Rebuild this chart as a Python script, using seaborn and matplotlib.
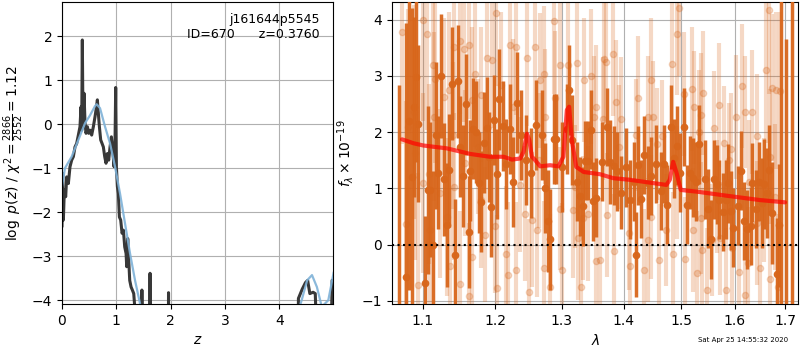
import numpy as np
import pandas as pd
import seaborn as sns
import matplotlib.pyplot as plt
from matplotlib.ticker import NullLocator

sns.set_style("ticks", {"axes.grid": True, "grid.color": "#b0b0b0",
                        "axes.edgecolor": "black", "text.color": "black",
                        "xtick.color": "black", "ytick.color": "black",
                        "axes.labelcolor": "black"})
plt.rcParams["font.family"] = ["DejaVu Sans"]
plt.rcParams["font.size"] = 10

# p(z) curve (data) and smooth template curve
z_pz = [0.000, 0.012, 0.025, 0.043, 0.068, 0.086, 0.117, 0.147, 0.178, 0.209,
        0.239, 0.270, 0.301, 0.331, 0.350, 0.362, 0.374, 0.387, 0.405, 0.424,
        0.442, 0.467, 0.491, 0.516, 0.546, 0.577, 0.608, 0.626, 0.651, 0.669,
        0.688, 0.712, 0.737, 0.761, 0.786, 0.810, 0.835, 0.859, 0.884, 0.909,
        0.933, 0.958, 0.976, 0.988, 1.001, 1.019, 1.037, 1.056, 1.080, 1.105,
        1.130, 1.154, 1.179, 1.191, 1.209, 1.228, 1.246, 1.271, 1.295, 1.320,
        1.338, 1.363, 1.465, 1.470, 1.475, 1.615, 1.620, 1.625, 1.955, 1.960,
        1.965, 4.340, 4.350, 4.420, 4.480, 4.520, 4.560, 4.620, 4.660, 4.720,
        4.940, 4.970, 5.000]
logpz = [-2.33, -1.12, -2.18, -1.50, -1.65, -1.20, -1.35, -0.97, -0.82, -0.74,
         -0.52, -0.44, -0.25, -0.06, 0.39, -0.14, 1.91, -0.06, 0.70, 0.02,
         -0.21, -0.06, -0.21, -0.14, -0.25, -0.06, 0.17, 0.32, 0.55, 0.24,
         -0.06, -0.36, -0.44, -0.52, -0.74, -0.89, -0.67, -0.82, -0.52, -0.29,
         -0.59, -0.97, -0.36, 0.83, -0.97, -1.42, -1.58, -2.11, -2.18, -2.48,
         -2.41, -2.79, -2.94, -3.24, -2.60, -3.09, -3.55, -3.70, -3.77, -3.85,
         -4.15, -6.00, -6.00, -3.77, -6.00, -6.00, -3.39, -6.00, -6.00, -3.83,
         -6.00, -6.00, -3.96, -3.75, -3.60, -3.55, -3.85, -3.82, -3.85, -6.00,
         -6.00, -3.55, -3.60]

z_tmpl = [0.000, 0.055, 0.178, 0.301, 0.424, 0.516, 0.608, 0.638, 0.700, 0.792,
          0.884, 0.976, 1.068, 1.160, 1.252, 1.344, 1.436, 1.500, 4.260, 4.410,
          4.510, 4.600, 4.690, 4.780, 4.900, 5.000]
logpz_tmpl = [-1.42, -1.00, -0.74, -0.36, 0.02, 0.20, 0.41, 0.45, 0.36, -0.06,
              -0.44, -0.97, -1.58, -2.26, -2.94, -3.55, -4.08, -4.60, -4.60, -4.00,
              -3.55, -3.43, -3.70, -4.15, -4.00, -3.36]

# 1D spectrum: first grism (dark) and second (light)
dark_lam = [1.0683, 1.0773, 1.0820, 1.0855, 1.0881, 1.0908, 1.0940, 1.1030, 1.1066, 1.1097,
            1.1133, 1.1174, 1.1200, 1.1241, 1.1282, 1.1322, 1.1349, 1.1390, 1.1430, 1.1471,
            1.1502, 1.1538, 1.1579, 1.1619, 1.1646, 1.1687, 1.1723, 1.1763, 1.1799, 1.1835,
            1.1880, 1.1907, 1.1939, 1.1979,
            1.2031, 1.2057, 1.2108, 1.2159, 1.2210, 1.2261, 1.2317, 1.2378, 1.2449, 1.2531,
            1.2602, 1.2694, 1.2745, 1.2786, 1.2822, 1.2873, 1.2913, 1.3000, 1.3077, 1.3117,
            1.3163, 1.3230, 1.3281, 1.3332, 1.3367, 1.3408, 1.3459, 1.3500, 1.3541,
            1.3636, 1.3722, 1.3780, 1.3837, 1.3894, 1.3952, 1.4038, 1.4113, 1.4170, 1.4210,
            1.4250, 1.4296, 1.4354, 1.4411, 1.4468, 1.4555, 1.4641, 1.4698, 1.4755, 1.4813,
            1.4870, 1.4928, 1.4985, 1.5054, 1.5111, 1.5157, 1.5215, 1.5272, 1.5329,
            1.5439, 1.5491, 1.5549, 1.5601, 1.5665, 1.5711, 1.5775, 1.5827, 1.5878, 1.5924,
            1.5975, 1.6072, 1.6124, 1.6189, 1.6247, 1.6311, 1.6344, 1.6408, 1.6473, 1.6537,
            1.6570, 1.6634, 1.6680, 1.6744, 1.6828, 1.6880, 1.6912, 1.7022, 1.7138]
dark_flux = [-1.50, -0.57, 2.20, 1.20, 2.45, 2.97, 2.15, -0.69, 0.97, 0.97,
             0.00, 1.94, 1.28, 2.99, 1.16, 0.35, 1.32, 2.86, -0.19, 2.90,
             1.74, 1.22, 2.49, 0.22, 1.31, 2.06, 2.00, 1.10, 0.76, 1.81,
             2.07, 1.56, 0.67, 2.22,
             1.26, 2.58, 2.10, 1.44, 2.06, 1.12, 2.52, 1.94, 1.51, 1.27,
             2.12, 1.94, 1.00, 0.42, 0.09, 1.88, 1.88, 1.37, 2.06, 2.74,
             1.85, 1.12, 0.86, 0.68, 1.49, 1.49, 2.04, 0.77, 0.83,
             1.47, 2.09, 1.47, 1.40, 1.30, 0.92, 1.37, 0.80, 1.12, -0.18,
             1.41, 0.81, 1.59, 1.10, 1.22, 1.43, 0.95, 1.43, 0.71, 2.09,
             1.53, 1.76, 1.28, 2.09, 0.71, 1.28, 1.19, 1.12, 1.78,
             1.16, 0.64, 0.09, 1.16, 1.07, 0.80, 0.58, 0.80, 1.09, 0.60,
             0.30, 0.69, 1.31, 0.42, 0.27, 0.33, 1.10, 0.63, 1.12, 0.73,
             1.07, 0.92, 1.33, 0.56, -0.52, 0.34, 5.00, -2.00, 6.00]
dark_err = [4.33, 4.5, 3.0, 3.0, 1.6, 1.5, 1.4, 1.2, 1.5, 1.2,
            1.3, 1.3, 1.0, 1.1, 1.0, 1.1, 1.0, 1.0, 1.0, 1.0,
            0.9, 0.9, 0.9, 1.0, 0.9, 0.9, 0.9, 0.9, 0.9, 0.9,
            0.9, 0.8, 0.9, 0.8,
            0.8, 0.9, 0.8, 0.8, 0.8, 0.8, 0.9, 0.8, 0.8, 0.8,
            0.8, 0.8, 0.8, 0.9, 0.9, 0.8, 0.8, 0.8, 0.8, 0.8,
            0.8, 0.7, 0.7, 0.7, 0.7, 0.7, 0.7, 0.7, 0.7,
            0.7, 0.7, 0.75, 0.7, 0.7, 0.65, 0.7, 0.7, 0.7, 0.75,
            0.7, 0.7, 0.7, 0.65, 0.7, 0.7, 0.7, 0.7, 0.7, 0.75,
            0.7, 0.7, 0.7, 0.7, 0.7, 0.65, 0.7, 0.7, 0.7,
            0.7, 0.7, 0.7, 0.7, 0.7, 0.7, 0.7, 0.7, 0.7, 0.7,
            0.7, 0.7, 0.7, 0.7, 0.7, 0.7, 0.7, 0.7, 0.7, 0.8,
            0.8, 0.8, 0.8, 0.9, 1.0, 1.1, 6.5, 5.66, 8.0]

light_lam = [1.0728, 1.0782, 1.0998, 1.1052, 1.1133, 1.0940, 1.1165, 1.1277, 1.1345, 1.1421,
             1.1502, 1.1556, 1.1628, 1.1664, 1.1705, 1.1795, 1.1885, 1.1952, 1.1367, 1.1502,
             1.1628, 1.1673, 1.1853, 1.1997, 1.1232, 1.1075, 1.0895, 1.0805, 1.1142, 1.1403,
             1.1570, 1.1750, 1.0881, 1.1322, 1.1097, 1.1412, 1.1795, 1.1007,
             1.2006, 1.2210, 1.2296, 1.2464, 1.2592, 1.2669, 1.2720, 1.2873, 1.2975, 1.3102,
             1.3230, 1.3347, 1.3459, 1.2159, 1.2184, 1.2296, 1.2500, 1.2720, 1.2822, 1.3000,
             1.3306, 1.3536, 1.2031, 1.2439, 1.2541, 1.2618, 1.2745, 1.2898, 1.2975, 1.3179,
             1.3255, 1.3332, 1.3408, 1.3510, 1.2363, 1.2261, 1.2082, 1.3204, 1.2643,
             1.3676, 1.3826, 1.3711, 1.4239, 1.4468, 1.4422, 1.4503, 1.4842, 1.4928, 1.4956,
             1.5054, 1.5197, 1.5243, 1.3653, 1.3952, 1.3866, 1.3550, 1.3607, 1.3837, 1.4113,
             1.4342, 1.4612, 1.4859, 1.5071, 1.5301, 1.4095, 1.4411, 1.4727, 1.5215, 1.4572,
             1.3923, 1.4669, 1.4928, 1.4468, 1.4210, 1.5329, 1.3722,
             1.5407, 1.5601, 1.5698, 1.5375, 1.5794, 1.5924, 1.6034, 1.6150, 1.6201, 1.6331,
             1.6441, 1.6680, 1.6615, 1.6731, 1.6809, 1.6893, 1.6699, 1.5362, 1.5388, 1.5472,
             1.5730, 1.5840, 1.5943, 1.6085, 1.6201, 1.6266, 1.6486, 1.6699, 1.6860, 1.6441,
             1.6570, 1.5665, 1.5891, 1.6279, 1.6796, 1.5568]
light_flux = [3.78, 0.36, 3.99, 3.74, 3.19, -0.72, 2.95, 2.63, 2.74, 3.51,
              3.62, 3.47, 3.54, 2.57, 3.04, 2.66, 3.31, 3.28, -0.39, -0.70,
              -0.91, -0.22, 0.17, 0.33, 0.91, 1.26, 1.62, 2.09, 2.27, 1.94,
              1.45, 1.74, 2.36, 0.49, 0.26, 1.03, 0.79, 1.09,
              4.12, 3.54, 3.51, 3.31, 3.51, 2.92, 3.04, 3.98, 3.19, 3.19,
              3.22, 2.93, 2.99, -0.16, -0.54, -0.45, -0.85, -0.42, -0.75, -0.46,
              -0.76, -0.29, -0.78, 0.55, 0.44, 0.26, 2.27, 2.60, 0.64, 0.61,
              0.11, 0.47, 0.55, 2.26, 1.06, 2.45, 2.83, 1.03, 1.50,
              3.29, 3.38, 3.25, 2.61, 2.92, 2.26, 2.26, 3.21, 3.75, 4.20,
              2.67, 2.77, 2.44, 2.24, 2.24, 2.54, 2.45, -0.28, -0.11, -0.39,
              -0.46, -0.28, -0.16, -0.25, -0.51, 0.20, 0.08, 0.26, 0.26, 1.79,
              1.74, 1.93, 1.10, 0.49, 1.95, 2.00, 0.52,
              2.70, 2.08, 2.48, 2.30, 1.81, 1.69, 2.27, 2.82, 2.36, 2.35,
              1.93, 4.17, 3.10, 2.79, 2.74, 2.73, 1.56, 0.47, -0.10, -0.81,
              0.11, -0.81, -0.07, -0.48, -0.90, -0.33, -0.42, -0.62, -0.75, 0.38,
              0.79, 0.85, 1.51, 1.12, 0.85, 0.08]
light_err = [2.0, 2.2, 1.8, 1.7, 1.5, 2.0, 1.5, 1.4, 1.4, 1.3,
             1.3, 1.3, 1.3, 1.3, 1.3, 1.2, 1.3, 1.2, 1.4, 1.3,
             1.3, 1.2, 1.2, 1.2, 1.5, 1.6, 1.9, 2.1, 1.5, 1.3,
             1.3, 1.2, 1.9, 1.4, 1.6, 1.3, 1.2, 1.6,
             1.3, 1.3, 1.2, 1.2, 1.3, 1.2, 1.2, 1.3, 1.2, 1.2,
             1.2, 1.1, 1.2, 1.2, 1.3, 1.2, 1.3, 1.2, 1.3, 1.2,
             1.2, 1.1, 1.3, 1.2, 1.2, 1.2, 1.2, 1.2, 1.1, 1.2,
             1.1, 1.1, 1.2, 1.1, 1.2, 1.2, 1.3, 1.1, 1.2,
             1.1, 1.1, 1.2, 1.1, 1.1, 1.1, 1.0, 1.1, 1.1, 1.2,
             1.1, 1.1, 1.0, 1.1, 1.1, 1.1, 1.1, 1.1, 1.0, 1.1,
             1.1, 1.0, 1.1, 1.1, 1.1, 1.0, 1.1, 1.0, 1.1, 1.0,
             1.1, 1.0, 1.0, 1.1, 1.0, 1.1, 1.1,
             1.1, 1.0, 1.1, 1.1, 1.0, 1.0, 1.1, 1.1, 1.0, 1.1,
             1.1, 1.5, 1.3, 1.3, 1.4, 1.4, 1.2, 1.0, 1.1, 1.1,
             1.0, 1.1, 1.0, 1.1, 1.1, 1.0, 1.1, 1.2, 1.3, 1.1,
             1.1, 1.0, 1.0, 1.1, 1.3, 1.0]

# best-fit model
model_lam = [1.0726, 1.0877, 1.1008, 1.1320, 1.1645, 1.1925, 1.2121, 1.2243, 1.2365, 1.2414,
             1.2465, 1.2499, 1.2539, 1.2589, 1.2664, 1.2817, 1.2945, 1.3023, 1.3077, 1.3113,
             1.3155, 1.3226, 1.3344, 1.3610, 1.3826, 1.4110, 1.4454, 1.4740, 1.4800, 1.4860,
             1.4925, 1.4997, 1.5290, 1.5910, 1.6500, 1.7000]
model_flux = [1.87, 1.80, 1.76, 1.71, 1.61, 1.56, 1.56, 1.51, 1.53, 1.65,
              1.97, 1.86, 1.56, 1.50, 1.39, 1.41, 1.39, 1.56, 2.39, 2.45,
              1.86, 1.38, 1.29, 1.25, 1.18, 1.15, 1.10, 1.06, 1.15, 1.47,
              1.26, 0.97, 0.94, 0.86, 0.79, 0.75]

orange = "#d8661b"

fig = plt.figure(figsize=(8, 3.5), dpi=100)
ax1 = fig.add_axes([0.0775, 0.131, 0.339, 0.863])
ax2 = fig.add_axes([0.49, 0.131, 0.508, 0.863])

# --- p(z) panel
sns.lineplot(x=z_pz, y=logpz, ax=ax1, color="0.22", lw=2.2, sort=False, estimator=None)
sns.lineplot(x=z_tmpl, y=logpz_tmpl, ax=ax1, color="#7fb2d8", lw=1.6, alpha=0.9,
             sort=False, estimator=None)
ax1.set_xlim(0, 4.99)
ax1.set_ylim(-4.09, 2.77)
ax1.set_xticks([0, 1, 2, 3, 4])
ax1.set_yticks([-4, -3, -2, -1, 0, 1, 2])
ax1.set_xlabel(r"$z$")
ax1.set_ylabel(r"$\log\ p(z)$ / $\chi^2=\frac{2866}{2552}=1.12$")
ax1.text(0.95, 0.965, "j161644p5545\nID=670      z=0.3760", transform=ax1.transAxes,
         ha="right", va="top", fontsize=9)

# --- spectrum panel
ax2.errorbar(light_lam, light_flux, yerr=light_err, fmt="o", color=orange, alpha=0.25,
             markersize=4.5, elinewidth=3, capsize=0, zorder=2)
ax2.errorbar(dark_lam, dark_flux, yerr=dark_err, fmt="o", color=orange, alpha=0.95,
             markersize=4.5, elinewidth=2.5, capsize=0, zorder=3)
sns.lineplot(x=model_lam, y=model_flux, ax=ax2, color="red", lw=3, alpha=0.7,
             sort=False, estimator=None, zorder=5)
ax2.axhline(0, color="black", ls=":", lw=1.5, zorder=6)
ax2.set_xscale("log")
ax2.set_xlim(1.0598, 1.7275)
ax2.set_ylim(-1.06, 4.31)
ax2.set_xticks([1.1, 1.2, 1.3, 1.4, 1.5, 1.6, 1.7])
ax2.set_xticklabels(["1.1", "1.2", "1.3", "1.4", "1.5", "1.6", "1.7"])
ax2.xaxis.set_minor_locator(NullLocator())
ax2.set_yticks([-1, 0, 1, 2, 3, 4])
ax2.set_xlabel(r"$\lambda$")
ax2.set_ylabel(r"$f_\lambda \times 10^{-19}$")

for ax in (ax1, ax2):
    ax.tick_params(length=3.5, width=0.8)
    ax.set_axisbelow(True)

fig.text(0.985, 0.029, "Sat Apr 25 14:55:32 2020", ha="right", va="center", fontsize=5)

fig.savefig("out.png", dpi=100)
plt.close()
